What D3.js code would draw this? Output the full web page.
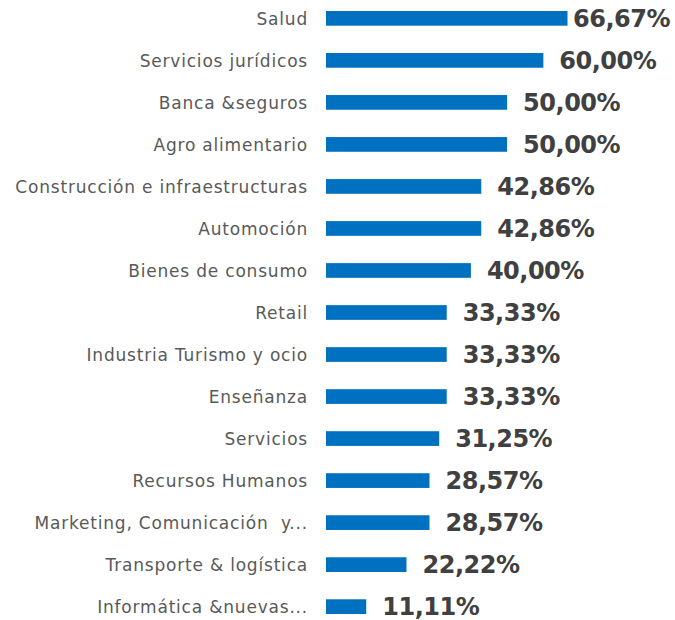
<!DOCTYPE html>
<html>
<head>
<meta charset="utf-8">
<script src="https://cdn.jsdelivr.net/npm/d3@7"></script>
<style>
body { margin: 0; background: #fff; }
</style>
</head>
<body>
<div class="chart"></div>
<script>
// Data ---------------------------------------------------------------------
const categories = [
  "Salud", "Servicios jurídicos", "Banca &seguros", "Agro alimentario",
  "Construcción e infraestructuras", "Automoción", "Bienes de consumo",
  "Retail", "Industria Turismo y ocio", "Enseñanza", "Servicios",
  "Recursos Humanos", "Marketing, Comunicación  y...", "Transporte & logística",
  "Informática &nuevas..."
];
const values = [66.67, 60.00, 50.00, 50.00, 42.86, 42.86, 40.00, 33.33, 33.33, 33.33, 31.25, 28.57, 28.57, 22.22, 11.11];

const data = categories.map((c, i) => ({ cat: c, value: values[i] }));

// SVG Dimensions ---------------------------------------------------------------------
const width = 675;
const height = 620;
const margin = { top: 11, right: 5, bottom: 6, left: 326 };

const svg = d3.select(".chart")
  .append("svg")
  .attr("width", width)
  .attr("height", height);

// Scales ---------------------------------------------------------------------
const xScale = d3.scaleLinear()
  .domain([0, 66.67])
  .range([margin.left, 567.5]);

const yScale = d3.scaleBand()
  .domain(categories)
  .range([margin.top, height - margin.bottom])
  .paddingInner(0.65)
  .paddingOuter(0);

// Bars ---------------------------------------------------------------------
svg.selectAll(".bar")
  .data(data)
  .join("rect")
  .attr("class", "bar")
  .attr("x", xScale(0))
  .attr("y", d => yScale(d.cat))
  .attr("width", d => xScale(d.value) - xScale(0))
  .attr("height", yScale.bandwidth())
  .attr("fill", "#0070C0");

// Category labels ---------------------------------------------------------------------
svg.selectAll(".cat")
  .data(data)
  .join("text")
  .attr("class", "cat")
  .attr("x", 308)
  .attr("y", d => yScale(d.cat) + yScale.bandwidth() / 2 + 0.5)
  .attr("dy", "0.35em")
  .attr("text-anchor", "end")
  .attr("font-family", "'DejaVu Sans', sans-serif")
  .attr("font-size", 17)
  .attr("letter-spacing", 0.8)
  .attr("fill", "#595959")
  .style("white-space", "pre")
  .text(d => d.cat);

// Value labels ---------------------------------------------------------------------
const fmt = v => v.toFixed(2).replace(".", ",") + "%";
svg.selectAll(".val")
  .data(data)
  .join("text")
  .attr("class", "val")
  .attr("y", d => yScale(d.cat) + yScale.bandwidth() / 2)
  .attr("dy", "0.35em")
  .attr("font-family", "'DejaVu Sans', sans-serif")
  .attr("font-weight", "bold")
  .attr("font-size", 24)
  .attr("letter-spacing", -0.5)
  .attr("fill", "#404040")
  .text(d => fmt(d.value))
  .attr("x", function(d) {
    const w = this.getComputedTextLength();
    return Math.min(xScale(d.value) + 16, width - margin.right - w);
  });
</script>
</body>
</html>
